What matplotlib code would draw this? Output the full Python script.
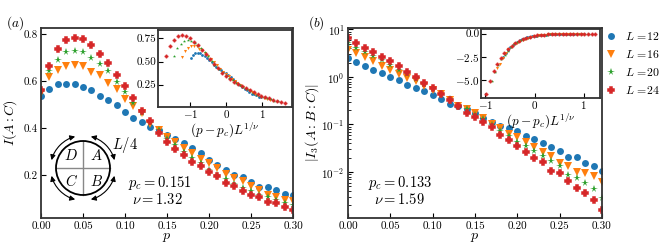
import numpy as np
import matplotlib
matplotlib.use("Agg")
import matplotlib.pyplot as plt
from matplotlib.patches import Circle, FancyArrowPatch
from matplotlib.path import Path
from matplotlib.transforms import Affine2D

plt.rcParams['font.family'] = 'serif'
plt.rcParams['font.serif'] = ['cmr10', 'DejaVu Serif']
plt.rcParams['mathtext.fontset'] = 'cm'
plt.rcParams['axes.formatter.use_mathtext'] = True
plt.rcParams['axes.unicode_minus'] = True

# ---------------- data ----------------
p = [0.00, 0.01, 0.02, 0.03, 0.04, 0.05, 0.06, 0.07, 0.08, 0.09, 0.10,
     0.11, 0.12, 0.13, 0.14, 0.15, 0.16, 0.17, 0.18, 0.19, 0.20,
     0.21, 0.22, 0.23, 0.24, 0.25, 0.26, 0.27, 0.28, 0.29, 0.30]
L_sizes = [12, 16, 20, 24]
labels = [r'$L$ =12', r'$L$ =16', r'$L$ =20', r'$L$ =24']

# I(A:C), panel (a)
I_AC_12 = [0.538, 0.567, 0.587, 0.589, 0.587, 0.575, 0.561, 0.538, 0.520, 0.498, 0.467,
           0.444, 0.424, 0.404, 0.390, 0.372, 0.355, 0.336, 0.316, 0.292, 0.262,
           0.243, 0.222, 0.200, 0.190, 0.172, 0.150, 0.147, 0.138, 0.121, 0.117]
I_AC_16 = [0.550, 0.617, 0.648, 0.666, 0.668, 0.663, 0.640, 0.626, 0.591, 0.565, 0.524,
           0.494, 0.463, 0.418, 0.392, 0.362, 0.340, 0.316, 0.292, 0.270, 0.250,
           0.228, 0.205, 0.188, 0.174, 0.152, 0.137, 0.116, 0.108, 0.093, 0.088]
I_AC_20 = [0.555, 0.641, 0.689, 0.722, 0.730, 0.722, 0.700, 0.672, 0.641, 0.598, 0.555,
           0.506, 0.466, 0.420, 0.390, 0.352, 0.327, 0.298, 0.271, 0.250, 0.221,
           0.200, 0.181, 0.161, 0.143, 0.133, 0.114, 0.107, 0.093, 0.079, 0.072]
I_AC_24 = [0.562, 0.666, 0.737, 0.773, 0.783, 0.779, 0.755, 0.715, 0.679, 0.626, 0.577,
           0.528, 0.474, 0.430, 0.378, 0.342, 0.311, 0.284, 0.255, 0.238, 0.214,
           0.197, 0.168, 0.154, 0.131, 0.117, 0.107, 0.086, 0.079, 0.065, 0.050]

# |I3(A:B:C)|, panel (b)
I3_12 = [2.45, 2.06, 1.72, 1.42, 1.21, 1.00, 0.85, 0.69, 0.575, 0.506, 0.41,
         0.343, 0.273, 0.244, 0.209, 0.171, 0.139, 0.113, 0.093, 0.086, 0.072,
         0.057, 0.0495, 0.040, 0.034, 0.028, 0.021, 0.0204, 0.0152, 0.0134, 0.0103]
I3_16 = [3.68, 3.23, 2.62, 2.12, 1.69, 1.42, 1.15, 0.95, 0.81, 0.66, 0.53,
         0.43, 0.33, 0.25, 0.215, 0.171, 0.139, 0.102, 0.083, 0.063, 0.054,
         0.042, 0.034, 0.0268, 0.0214, 0.0158, 0.0136, 0.0102, 0.0096, 0.0083, 0.0061]
I3_20 = [5.07, 4.12, 3.39, 2.75, 2.24, 1.81, 1.42, 1.15, 0.92, 0.71, 0.55,
         0.446, 0.339, 0.25, 0.211, 0.158, 0.130, 0.098, 0.072, 0.057, 0.0436,
         0.0347, 0.028, 0.0214, 0.0173, 0.0132, 0.0087, 0.0074, 0.0059, 0.0043, 0.0028]
I3_24 = [6.5, 5.08, 4.05, 3.28, 2.62, 2.12, 1.67, 1.27, 1.00, 0.74, 0.575,
         0.436, 0.32, 0.245, 0.177, 0.146, 0.113, 0.087, 0.060, 0.047, 0.0358,
         0.026, 0.0195, 0.016, 0.0105, 0.0094, 0.0066, 0.0046, 0.0037, 0.0026, 0.0016]

pc_a, nu_a = 0.151, 1.32
pc_b, nu_b = 0.133, 1.59

I_AC = [I_AC_12, I_AC_16, I_AC_20, I_AC_24]
I3 = [I3_12, I3_16, I3_20, I3_24]

colors = ['#1f77b4', '#ff7f0e', '#2ca02c', '#d62728']
markers = ['o', 'v', '*', 'P']
msizes = [5.0, 5.5, 5.5, 4.6]
imsizes = [2.0, 2.2, 2.4, 2.2]

W, H = 664, 246
fig = plt.figure(figsize=(W / 100, H / 100), dpi=100)

def box(x0, y0, x1, y1):
    return [x0 / W, 1 - y1 / H, (x1 - x0) / W, (y1 - y0) / H]

spine_c = '#333333'

def style(ax, lw=1.3, fs=8, pad=2.5):
    for s in ax.spines.values():
        s.set_linewidth(lw)
        s.set_color(spine_c)
    ax.tick_params(direction='in', labelsize=fs, length=3.5, width=0.8, pad=pad)
    ax.tick_params(which='minor', direction='in', length=2, width=0.6)

def mk(ax, x, y, c, m, ms, big=True):
    mew = (1.1 if big else 0.6) if m == 'P' else 0.0
    ax.plot(x, y, ls='none', marker=m, color=c, ms=ms, mec=c, mew=mew)

pa = np.array(p)

# ---------------- panel (a) ----------------
axa = fig.add_axes(box(41, 28, 293, 218))
for y, c, m, ms in zip(I_AC, colors, markers, msizes):
    mk(axa, p, y, c, m, ms)
axa.set_xlim(0, 0.3)
axa.set_ylim(0.017, 0.826)
axa.set_xticks([0.0, 0.05, 0.10, 0.15, 0.20, 0.25, 0.30])
axa.set_xticklabels(['0.00', '0.05', '0.10', '0.15', '0.20', '0.25', '0.30'])
axa.set_yticks([0.2, 0.4, 0.6, 0.8])
axa.set_yticklabels(['0.2', '0.4', '0.6', '0.8'])
style(axa)
axa.set_xlabel('$p$', fontsize=10, labelpad=0)
axa.set_ylabel('$I(A:C)$', fontsize=10, labelpad=3)
axa.text(0.472, 0.185, '$p_c=0.151$', transform=axa.transAxes, fontsize=10.5,
         ha='center', va='center')
axa.text(0.464, 0.095, r'$\nu=1.32$', transform=axa.transAxes, fontsize=10.5,
         ha='center', va='center')
fig.text(15 / W, 1 - 23 / H, '$(a)$', fontsize=9.5, ha='center', va='center')

# inset (a)
ina = fig.add_axes(box(158, 30, 292, 107))
for L, y, c, m, ms in zip(L_sizes, I_AC, colors, markers, imsizes):
    x = (pa - pc_a) * L ** (1 / nu_a)
    mk(ina, x, y, c, m, ms, big=False)
ina.set_xlim(-1.9, 1.84)
ina.set_ylim(0.01, 0.84)
ina.set_xticks([-1, 0, 1])
ina.set_yticks([0.25, 0.50, 0.75])
ina.set_yticklabels(['0.25', '0.50', '0.75'])
style(ina, lw=1.3, pad=1.0)
ina.set_xlabel(r'$(p-p_c)L^{1/\nu}$', fontsize=9.5, labelpad=0)

# circle diagram
axc = fig.add_axes(box(33, 118, 133, 218))
axc.set_xlim(-50 / 27, 50 / 27)
axc.set_ylim(-50 / 27, 50 / 27)
axc.axis('off')
axc.patch.set_alpha(0)
axc.add_patch(Circle((0, 0), 1, fill=False, ec='black', lw=1.3, zorder=3))
axc.plot([0, 0], [-1, 1], color='#888888', lw=1.0, zorder=2)
axc.plot([-1, 1], [0, 0], color='#888888', lw=1.0, zorder=2)
for cang in [45, 135, 225, 315]:
    path = Affine2D().scale(1.2).transform_path(Path.arc(cang - 31, cang + 31))
    arr = FancyArrowPatch(path=path, arrowstyle='<|-|>,head_length=3,head_width=1.5',
                          lw=0.8, color='black', mutation_scale=1)
    axc.add_patch(arr)
for (tx, ty, s) in [(-0.45, 0.45, 'D'), (0.48, 0.45, 'A'), (-0.42, -0.5, 'C'), (0.5, -0.5, 'B')]:
    axc.text(tx, ty, '$%s$' % s, fontsize=10.5, ha='center', va='center')
axc.text(1.55, 0.85, '$L/4$', fontsize=10.5, ha='center', va='center')

# ---------------- panel (b) ----------------
axb = fig.add_axes(box(348, 28, 602, 218))
for y, c, m, ms in zip(I3, colors, markers, msizes):
    mk(axb, p, y, c, m, ms)
axb.set_yscale('log')
axb.set_xlim(0, 0.3)
axb.set_ylim(1.08e-3, 10.7)
axb.set_xticks([0.0, 0.05, 0.10, 0.15, 0.20, 0.25, 0.30])
axb.set_xticklabels(['0.00', '0.05', '0.10', '0.15', '0.20', '0.25', '0.30'])
style(axb)
axb.set_xlabel('$p$', fontsize=10, labelpad=0)
axb.set_ylabel('$|I_3(A:B:C)|$', fontsize=10, labelpad=0)
axb.text(0.204, 0.185, '$p_c=0.133$', transform=axb.transAxes, fontsize=10.5,
         ha='center', va='center')
axb.text(0.204, 0.095, r'$\nu=1.59$', transform=axb.transAxes, fontsize=10.5,
         ha='center', va='center')
fig.text(316 / W, 1 - 23 / H, '$(b)$', fontsize=9.5, ha='center', va='center')

# inset (b)
inb = fig.add_axes(box(481, 29, 600, 98))
for L, y, c, m, ms in zip(L_sizes, I3, colors, markers, imsizes):
    x = (pa - pc_b) * L ** (1 / nu_b)
    mk(inb, x, -np.array(y), c, m, ms, big=False)
inb.set_xlim(-1.09, 1.33)
inb.set_ylim(-6.9, 0.5)
inb.set_xticks([-1, 0, 1])
inb.set_yticks([0.0, -2.5, -5.0])
inb.set_yticklabels(['0.0', '$-2.5$', '$-5.0$'])
style(inb, lw=1.3, pad=1.0)
inb.set_xlabel(r'$(p-p_c)L^{1/\nu}$', fontsize=9.5, labelpad=0)

# legend
handles = []
for lab, c, m, ms in zip(labels, colors, markers, msizes):
    mew = 1.1 if m == 'P' else 0.0
    h, = axb.plot([], [], ls='none', marker=m, color=c, ms=ms, mec=c, mew=mew)
    handles.append(h)
fig.legend(handles=handles, labels=labels, loc='upper left',
           bbox_to_anchor=(605 / W, 1 - 30 / H), frameon=False, fontsize=8.5,
           handletextpad=0.7, labelspacing=0.5, handlelength=1.0, borderaxespad=0,
           borderpad=0)

fig.savefig('out.png', dpi=100)
